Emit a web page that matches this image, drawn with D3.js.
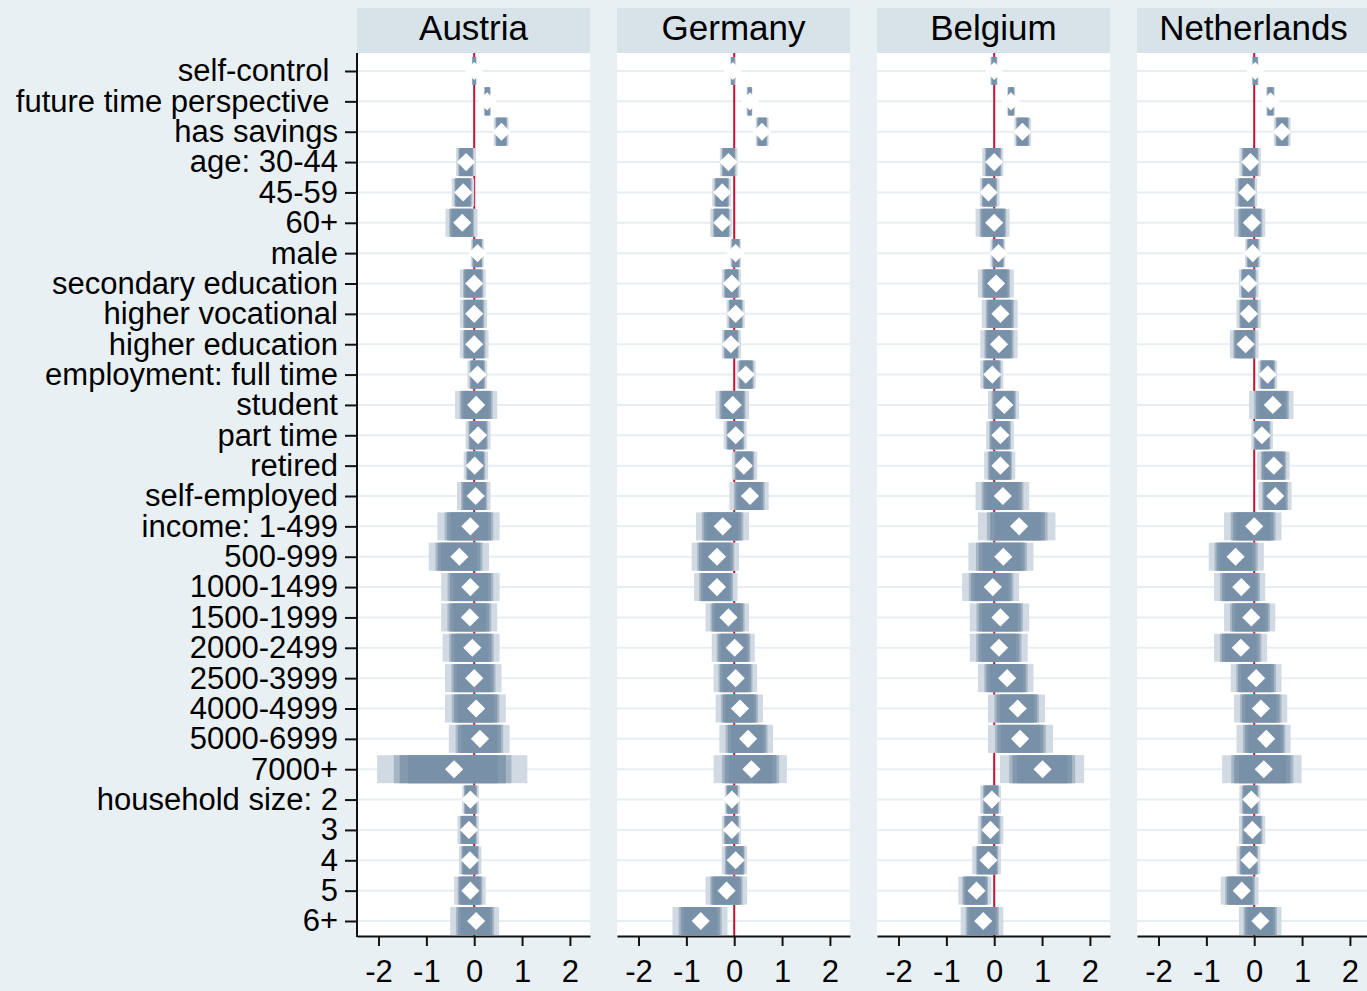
<!DOCTYPE html>
<html>
<head>
<meta charset="utf-8">
<script src="https://cdn.jsdelivr.net/npm/d3@7"></script>
<style>
  body { margin: 0; background: #e9f0f3; }
  svg { display: block; font-family: "Liberation Sans", Arial, sans-serif; }
  .ylab text { white-space: pre; }
</style>
</head>
<body>
<svg id="drawing_region"></svg>
<script>
// row labels (top to bottom); trailing spaces as in the original labels
const categories = [
    'self-control ', 'future time perspective ', 'has savings', 'age: 30-44', '45-59', '60+',
    'male', 'secondary education', 'higher vocational', 'higher education',
    'employment: full time', 'student', 'part time', 'retired', 'self-employed',
    'income: 1-499', '500-999', '1000-1499', '1500-1999', '2000-2499', '2500-3999',
    '4000-4999', '5000-6999', '7000+', 'household size: 2', '3', '4', '5', '6+'
];

const countries = ['Austria', 'Germany', 'Belgium', 'Netherlands'];

// point estimates and outer (99.9%) interval bounds
const austriaEst = [0.0, 0.27, 0.57, -0.17, -0.23, -0.25, 0.07, 0.0, 0.0, 0.0, 0.07, 0.04, 0.08, 0.01, 0.03, -0.08, -0.31, -0.08, -0.09, -0.04, 0.0, 0.04, 0.12, -0.42, -0.08, -0.11, -0.09, -0.08, 0.04];
const austriaLo = [-0.05, 0.2, 0.41, -0.38, -0.47, -0.6, -0.07, -0.3, -0.3, -0.3, -0.14, -0.4, -0.18, -0.22, -0.36, -0.77, -0.95, -0.69, -0.69, -0.66, -0.61, -0.61, -0.53, -2.03, -0.25, -0.35, -0.32, -0.42, -0.5];
const austriaHi = [0.05, 0.35, 0.72, 0.03, 0.0, 0.07, 0.2, 0.24, 0.27, 0.3, 0.27, 0.48, 0.34, 0.29, 0.34, 0.53, 0.31, 0.53, 0.48, 0.53, 0.57, 0.66, 0.74, 1.11, 0.1, 0.1, 0.15, 0.24, 0.52];

const germanyEst = [-0.03, 0.33, 0.58, -0.12, -0.25, -0.25, 0.03, -0.05, 0.03, -0.07, 0.24, -0.03, 0.03, 0.2, 0.33, -0.24, -0.36, -0.36, -0.12, 0.01, 0.03, 0.12, 0.29, 0.36, -0.05, -0.05, 0.03, -0.16, -0.7];
const germanyLo = [-0.08, 0.26, 0.45, -0.3, -0.46, -0.5, -0.08, -0.26, -0.16, -0.26, 0.05, -0.39, -0.22, -0.05, -0.1, -0.8, -0.89, -0.84, -0.6, -0.47, -0.43, -0.39, -0.31, -0.43, -0.2, -0.26, -0.26, -0.6, -1.29];
const germanyHi = [0.02, 0.38, 0.72, 0.07, -0.07, -0.05, 0.14, 0.14, 0.22, 0.14, 0.45, 0.31, 0.26, 0.48, 0.72, 0.31, 0.1, 0.07, 0.31, 0.43, 0.48, 0.6, 0.81, 1.1, 0.12, 0.14, 0.27, 0.27, -0.14];

const belgiumEst = [0.0, 0.35, 0.59, 0.0, -0.12, 0.0, 0.09, 0.04, 0.13, 0.1, -0.04, 0.21, 0.13, 0.13, 0.18, 0.52, 0.19, -0.03, 0.13, 0.1, 0.27, 0.49, 0.54, 1.01, -0.05, -0.08, -0.12, -0.37, -0.23];
const belgiumLo = [-0.08, 0.27, 0.42, -0.25, -0.3, -0.39, -0.08, -0.34, -0.26, -0.29, -0.29, -0.13, -0.17, -0.21, -0.39, -0.34, -0.54, -0.67, -0.51, -0.51, -0.34, -0.13, -0.13, 0.12, -0.29, -0.34, -0.46, -0.75, -0.7];
const belgiumHi = [0.07, 0.44, 0.77, 0.19, 0.11, 0.32, 0.23, 0.41, 0.49, 0.49, 0.19, 0.52, 0.41, 0.44, 0.73, 1.28, 0.82, 0.52, 0.73, 0.7, 0.82, 1.06, 1.23, 1.88, 0.14, 0.19, 0.14, -0.06, 0.19];

const netherlandsEst = [0.02, 0.34, 0.58, -0.08, -0.14, -0.05, -0.03, -0.12, -0.11, -0.18, 0.28, 0.39, 0.16, 0.41, 0.44, 0.0, -0.39, -0.27, -0.06, -0.28, 0.04, 0.14, 0.25, 0.2, -0.06, -0.04, -0.1, -0.26, 0.13];
const netherlandsLo = [-0.05, 0.25, 0.41, -0.31, -0.4, -0.42, -0.19, -0.32, -0.37, -0.51, 0.08, -0.11, -0.06, 0.06, 0.09, -0.63, -0.95, -0.84, -0.63, -0.84, -0.49, -0.42, -0.37, -0.67, -0.31, -0.32, -0.37, -0.7, -0.32];
const netherlandsHi = [0.09, 0.43, 0.76, 0.14, 0.06, 0.23, 0.13, 0.09, 0.14, 0.09, 0.48, 0.82, 0.39, 0.74, 0.78, 0.57, 0.2, 0.23, 0.44, 0.27, 0.57, 0.69, 0.76, 0.99, 0.13, 0.23, 0.13, 0.09, 0.57];

const xTicks = [-2, -1, 0, 1, 2];

// nested interval levels: 99.9, 99, 98, 95 (normal quantiles)
const ciZ = [3.291, 2.576, 2.326, 1.960];
const ciColors = ['#d1dae2', '#a6b6c5', '#8399ae', '#7890a8'];

class CoefPanel {
    constructor(svg, left, top, width, height, title, est, lo, hi, showY) {
        this.svg = svg;
        this.left = left;
        this.top = top;
        this.width = width;
        this.height = height;
        this.title = title;
        this.showY = showY;
        this.rows = categories.map((c, i) => ({label: c, est: est[i], lo: lo[i], hi: hi[i]}));
        this.g = svg.append('g').attr('transform', `translate(${left}, ${top})`);
    }

    initializeScales() {
        this.xscale = d3.scaleLinear()
            .domain([-2.45, 2.42])
            .range([0, this.width]);

        this.yscale = d3.scalePoint()
            .domain(categories)
            .range([18, this.height - 15]);
    }

    drawFrame() {
        // title strip
        this.svg.append('rect')
            .attr('x', this.left).attr('y', 8)
            .attr('width', this.width).attr('height', this.top - 8)
            .attr('fill', '#d7e3e9');
        this.svg.append('text')
            .attr('x', this.left + this.width / 2).attr('y', 40)
            .attr('text-anchor', 'middle')
            .attr('font-size', 35)
            .attr('fill', '#000')
            .text(this.title);

        this.g.append('rect')
            .attr('width', this.width).attr('height', this.height)
            .attr('fill', '#fff');

        this.g.selectAll('.grid').data(categories).enter()
            .append('line')
            .attr('x1', 0).attr('x2', this.width)
            .attr('y1', d => this.yscale(d)).attr('y2', d => this.yscale(d))
            .attr('stroke', '#e6eef2').attr('stroke-width', 2);

        this.g.append('line')
            .attr('x1', this.xscale(0)).attr('x2', this.xscale(0))
            .attr('y1', 0).attr('y2', this.height)
            .attr('stroke', '#c8102e').attr('stroke-width', 2);
    }

    drawBars() {
        const bh = 28;
        ciZ.forEach((z, k) => {
            const f = z / ciZ[0];
            this.g.selectAll(`.ci${k}`).data(this.rows).enter()
                .append('rect')
                .attr('x', d => this.xscale(d.est - (d.est - d.lo) * f))
                .attr('y', d => this.yscale(d.label) - bh / 2)
                .attr('width', d => this.xscale(d.est + (d.hi - d.est) * f) - this.xscale(d.est - (d.est - d.lo) * f))
                .attr('height', bh)
                .attr('fill', ciColors[k]);
        });

        const diamond = d3.symbol(d3.symbolSquare, 165);
        this.g.selectAll('.pt').data(this.rows).enter()
            .append('path')
            .attr('d', diamond)
            .attr('transform', d => `translate(${this.xscale(d.est)}, ${this.yscale(d.label)}) rotate(45)`)
            .attr('fill', '#fff');
    }

    drawAxes() {
        const xaxis = d3.axisBottom(this.xscale)
            .tickValues(xTicks)
            .tickFormat(d => String(d))
            .tickSize(10)
            .tickPadding(14)
            .tickSizeOuter(0);

        const xg = this.g.append('g')
            .attr('transform', `translate(0, ${this.height})`)
            .call(xaxis);
        xg.selectAll('text').attr('font-size', 31).attr('fill', '#000').attr('font-family', null);
        xg.selectAll('line, path').attr('stroke', '#111').attr('stroke-width', 2);

        if (this.showY) {
            const yaxis = d3.axisLeft(this.yscale)
                .tickSize(12)
                .tickPadding(7)
                .tickSizeOuter(0);
            const yg = this.g.append('g')
                .attr('class', 'ylab')
                .call(yaxis);
            yg.select('.domain').remove();
            yg.selectAll('text').attr('font-size', 31).attr('fill', '#000').attr('font-family', null);
            yg.selectAll('line').attr('stroke', '#111').attr('stroke-width', 2);
            this.g.append('line')
                .attr('x1', 0).attr('x2', 0)
                .attr('y1', 0).attr('y2', this.height + 1)
                .attr('stroke', '#111').attr('stroke-width', 2);
        }
    }

    render() {
        this.initializeScales();
        this.drawFrame();
        this.drawBars();
        this.drawAxes();
    }
}

var width = 1367;
var height = 991;
var svg = d3.select('#drawing_region')
    .attr('width', width)
    .attr('height', height);

svg.append('rect').attr('width', width).attr('height', height).attr('fill', '#e9f0f3');

var panelData = [
    [austriaEst, austriaLo, austriaHi],
    [germanyEst, germanyLo, germanyHi],
    [belgiumEst, belgiumLo, belgiumHi],
    [netherlandsEst, netherlandsLo, netherlandsHi]
];

countries.forEach((c, i) => {
    const p = new CoefPanel(svg, 357 + i * 260, 53, 233, 883, c,
        panelData[i][0], panelData[i][1], panelData[i][2], i === 0);
    p.render();
});
</script>
</body>
</html>
